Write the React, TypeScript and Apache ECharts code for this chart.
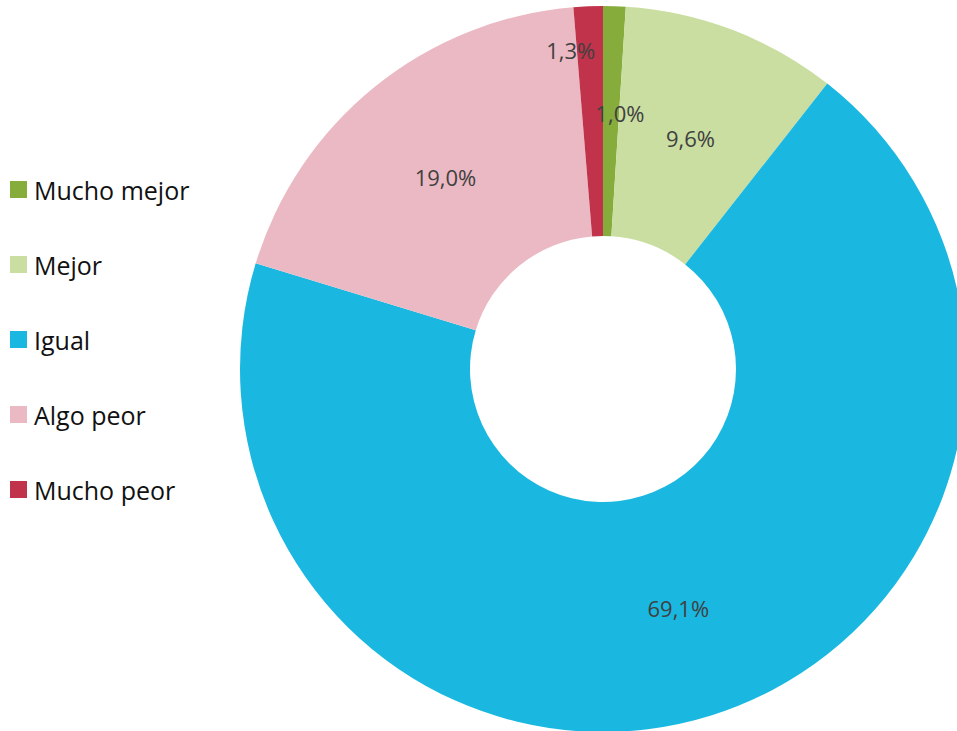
import React, { useEffect, useRef } from "react";
import * as echarts from "echarts";

const categories = ["Mucho mejor", "Mejor", "Igual", "Algo peor", "Mucho peor"];
const values = [1.0, 9.6, 69.1, 19.0, 1.3];
const colors = ["#86AC3C", "#C9DEA0", "#1AB8E0", "#EBB9C3", "#C0334A"];
const labelOffsets: [number, number][] = [[9, -5], [-2, 4], [0, 0], [0, 3], [-22, -68]];

export default function App() {
  const ref = useRef<HTMLDivElement>(null);
  useEffect(() => {
    if (!ref.current) return;
    const chart = echarts.init(ref.current, undefined, { renderer: "svg" });
    chart.setOption({
      animation: false,
      backgroundColor: "#ffffff",
      legend: {
        orient: "vertical",
        left: 10,
        top: 177,
        padding: 0,
        itemWidth: 17,
        itemHeight: 17,
        itemGap: 50,
        itemTextGap: 5,
        icon: "rect",
        data: categories,
        textStyle: {
          fontFamily: "Open Sans",
          fontSize: 25,
          lineHeight: 25,
          color: "#111111",
          padding: [0, 0, 0, 2],
        },
      },
      series: [
        {
          type: "pie",
          center: [603, 369],
          radius: [133, 363],
          startAngle: 90,
          clockwise: true,
          avoidLabelOverlap: false,
          label: {
            show: true,
            position: "inside",
            fontFamily: "Open Sans",
            fontSize: 22,
            color: "#404040",
            formatter: (p: any) => p.value.toFixed(1).replace(".", ",") + "%",
          },
          labelLine: { show: false },
          itemStyle: { borderWidth: 0 },
          emphasis: { disabled: true },
          data: categories.map((name, i) => ({
            name,
            value: values[i],
            itemStyle: { color: colors[i] },
            label: { offset: labelOffsets[i] },
          })),
        },
      ],
    });
    return () => chart.dispose();
  }, []);
  return (
    <div
      ref={ref}
      style={{ position: "fixed", left: 0, top: 0, width: 957, height: 731 }}
    />
  );
}
